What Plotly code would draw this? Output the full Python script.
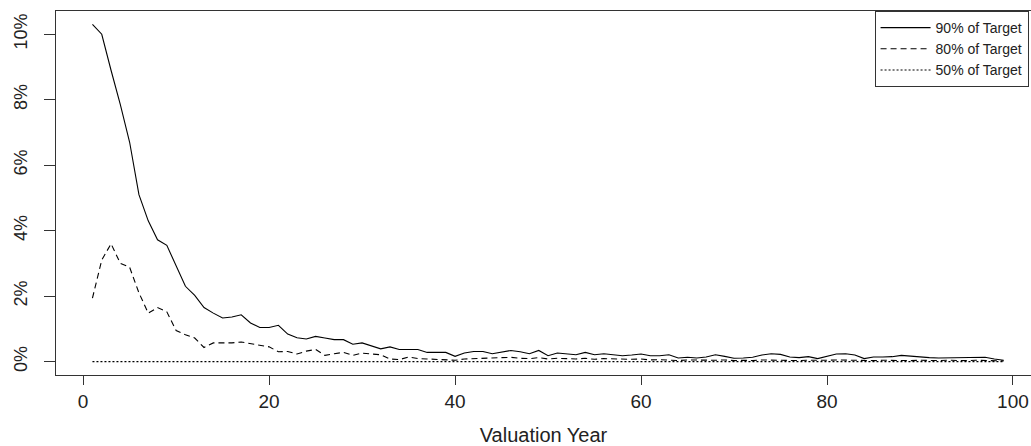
import plotly.graph_objects as go

years = list(range(1, 100))

target_90 = [10.30, 10.00, 8.90, 7.85, 6.70, 5.10, 4.30, 3.72, 3.55, 2.90,
             2.30, 2.02, 1.65, 1.48, 1.33, 1.36, 1.43, 1.18, 1.04, 1.04,
             1.11, 0.84, 0.73, 0.69, 0.77, 0.72, 0.67, 0.67, 0.53, 0.57,
             0.47, 0.39, 0.45, 0.37, 0.37, 0.37, 0.28, 0.28, 0.28, 0.16,
             0.26, 0.31, 0.31, 0.24, 0.28, 0.34, 0.30, 0.24, 0.34, 0.18,
             0.26, 0.24, 0.21, 0.28, 0.21, 0.24, 0.22, 0.18, 0.20, 0.23,
             0.18, 0.18, 0.21, 0.11, 0.13, 0.11, 0.14, 0.21, 0.16, 0.10,
             0.11, 0.13, 0.20, 0.24, 0.22, 0.14, 0.12, 0.15, 0.09, 0.16,
             0.23, 0.24, 0.20, 0.09, 0.14, 0.14, 0.15, 0.19, 0.16, 0.14,
             0.12, 0.11, 0.11, 0.11, 0.11, 0.13, 0.13, 0.08, 0.04]

target_80 = [1.94, 3.10, 3.60, 3.00, 2.88, 2.10, 1.48, 1.65, 1.52, 0.95,
             0.82, 0.72, 0.43, 0.57, 0.57, 0.57, 0.60, 0.55, 0.50, 0.45,
             0.30, 0.31, 0.23, 0.32, 0.37, 0.19, 0.24, 0.28, 0.19, 0.26,
             0.23, 0.21, 0.08, 0.06, 0.14, 0.09, 0.08, 0.07, 0.06, 0.04,
             0.08, 0.09, 0.10, 0.09, 0.12, 0.13, 0.10, 0.09, 0.12, 0.08,
             0.10, 0.09, 0.08, 0.10, 0.07, 0.09, 0.08, 0.06, 0.07, 0.08,
             0.05, 0.06, 0.04, 0.03, 0.05, 0.04, 0.03, 0.04, 0.05, 0.03,
             0.04, 0.03, 0.05, 0.04, 0.03, 0.04, 0.03, 0.04, 0.03, 0.04,
             0.05, 0.04, 0.03, 0.02, 0.03, 0.04, 0.03, 0.04, 0.03, 0.04,
             0.03, 0.03, 0.04, 0.03, 0.03, 0.04, 0.03, 0.03, 0.02]

target_50 = [0.0] * 99

series = [
    ("90% of Target", target_90, "solid"),
    ("80% of Target", target_80, "6px,4px"),
    ("50% of Target", target_50, "2px,2px"),
]

x_ticks = [0, 20, 40, 60, 80, 100]
y_ticks = [0, 2, 4, 6, 8, 10]
y_labels = ["0%", "2%", "4%", "6%", "8%", "10%"]

fig = go.Figure()
for name, vals, dash in series:
    fig.add_trace(go.Scatter(
        x=years, y=vals, mode="lines", name=name,
        line=dict(color="black", width=1.1, dash=dash),
    ))

axis_font = "Liberation Sans, Arial, sans-serif"

fig.update_layout(
    width=1031, height=446,
    margin=dict(l=56, r=0, t=11, b=71, autoexpand=False),
    paper_bgcolor="white", plot_bgcolor="white",
    font=dict(family=axis_font, color="#222222"),
    showlegend=True,
    legend=dict(
        x=0.9975, y=1, xanchor="right", yanchor="top",
        bordercolor="#333333", borderwidth=1, bgcolor="white",
        font=dict(size=14, family=axis_font, color="#222222"),
        tracegroupgap=0, itemwidth=50,
    ),
    xaxis=dict(
        range=[-2.92, 101.94], tickmode="array", tickvals=x_ticks,
        ticks="outside", ticklen=9, tickcolor="#333333",
        showline=True, linecolor="#333333", linewidth=1, mirror=True,
        showgrid=False, zeroline=False, automargin=False,
        tickfont=dict(size=19, family=axis_font, color="#222222"),
        title=dict(text="Valuation Year", font=dict(size=20, family=axis_font, color="#222222"), standoff=22),
    ),
    yaxis=dict(
        range=[-0.41, 10.71], tickmode="array", tickvals=y_ticks, ticktext=y_labels,
        ticks="outside", ticklen=11, tickcolor="#333333", tickangle=-90,
        showline=True, linecolor="#333333", linewidth=1, mirror=True,
        showgrid=False, zeroline=False, automargin=False,
        tickfont=dict(size=18, family=axis_font, color="#222222"),
        ticklabelstandoff=10,
    ),
)

fig.write_html("out.html")
